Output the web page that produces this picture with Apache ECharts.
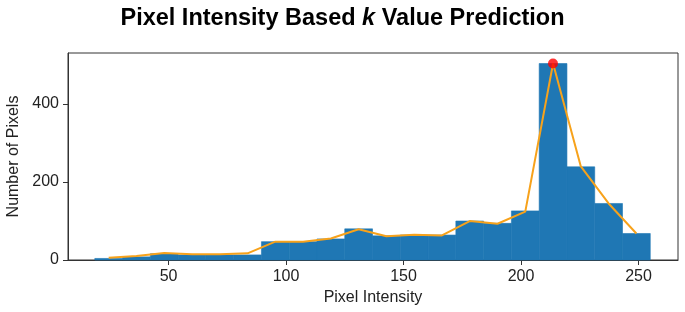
<!DOCTYPE html>
<html>
<head>
<meta charset="utf-8">
<script src="https://cdn.jsdelivr.net/npm/echarts@6/dist/echarts.min.js"></script>
<style>
  html, body { margin: 0; padding: 0; background: #fff; }
  #chart { width: 685px; height: 312px; }
</style>
</head>
<body>
<div id="chart"></div>
<script>
// histogram bin edges (20 bins)
const binStart = 18.6
const binWidth = 11.82
const counts = [4, 8, 16, 13, 13, 13, 47, 47, 54, 80, 62, 64, 64, 100, 94, 126, 504, 239, 145, 68]
// orange trend line, one point per bin centre
const lineValues = [6, 10, 18, 15, 15, 17, 47, 47, 55, 79, 61, 65, 63, 100, 93, 124, 504, 240, 145, 68]
const peak = [213.6, 504]
const xTicks = [50, 100, 150, 200, 250]
const yTicks = [0, 200, 400]

let bars = []
let line = []
counts.forEach(function (v, i) {
    let x0 = binStart + i * binWidth
    bars.push([x0, x0 + binWidth, v])
    line.push([x0 + binWidth / 2, lineValues[i]])
})

const font = '"Liberation Sans", Arial, Helvetica, sans-serif'
let myChart = echarts.init(document.getElementById('chart'))

let option = {
    animation: false,
    title: {
        text: 'Pixel Intensity Based {i|k} Value Prediction',
        left: 'center',
        top: 2,
        textStyle: {
            fontFamily: font,
            fontWeight: 'bold',
            fontSize: 23.5,
            color: '#000',
            rich: {
                i: { fontFamily: font, fontWeight: 'bold', fontStyle: 'italic', fontSize: 23.5, color: '#000' }
            }
        }
    },
    grid: {
        left: 68, right: 7, top: 53, bottom: 52,
        outerBoundsMode: 'none',
        show: true, borderColor: '#333', borderWidth: 1
    },
    xAxis: {
        type: 'value',
        min: 7.2,
        max: 266.8,
        name: 'Pixel Intensity',
        nameLocation: 'middle',
        nameGap: 30,
        nameTextStyle: { fontFamily: font, fontSize: 16, color: '#222' },
        splitLine: { show: false },
        axisLine: { lineStyle: { color: '#333' } },
        axisTick: { show: true, length: 5, customValues: xTicks, lineStyle: { color: '#333' } },
        axisLabel: { customValues: xTicks, fontFamily: font, fontSize: 16, color: '#222', margin: 9 }
    },
    yAxis: {
        type: 'value',
        min: 0,
        max: 531,
        name: 'Number of Pixels',
        nameLocation: 'middle',
        nameRotate: 90,
        nameGap: 45,
        nameTextStyle: { fontFamily: font, fontSize: 16, color: '#222' },
        splitLine: { show: false },
        axisLine: { show: true, lineStyle: { color: '#333' } },
        axisTick: { show: true, length: 5, customValues: yTicks, lineStyle: { color: '#333' } },
        axisLabel: { customValues: yTicks, fontFamily: font, fontSize: 16, color: '#222', margin: 9 }
    },
    series: [
        {
            type: 'custom',
            data: bars,
            renderItem: function (params, api) {
                let p0 = api.coord([api.value(0), api.value(2)])
                let p1 = api.coord([api.value(1), 0])
                return {
                    type: 'rect',
                    shape: { x: p0[0], y: p0[1], width: p1[0] - p0[0], height: p1[1] - p0[1] },
                    style: { fill: '#1f77b4', stroke: '#1f77b4', lineWidth: 0.6 }
                }
            },
            encode: { x: [0, 1], y: 2 }
        },
        {
            type: 'line',
            data: line,
            showSymbol: false,
            lineStyle: { color: '#f7a21b', width: 2 },
            z: 3
        },
        {
            type: 'scatter',
            data: [peak],
            symbolSize: 10,
            itemStyle: { color: '#ff0000' },
            z: 4
        }
    ]
}
myChart.setOption(option)
</script>
</body>
</html>
